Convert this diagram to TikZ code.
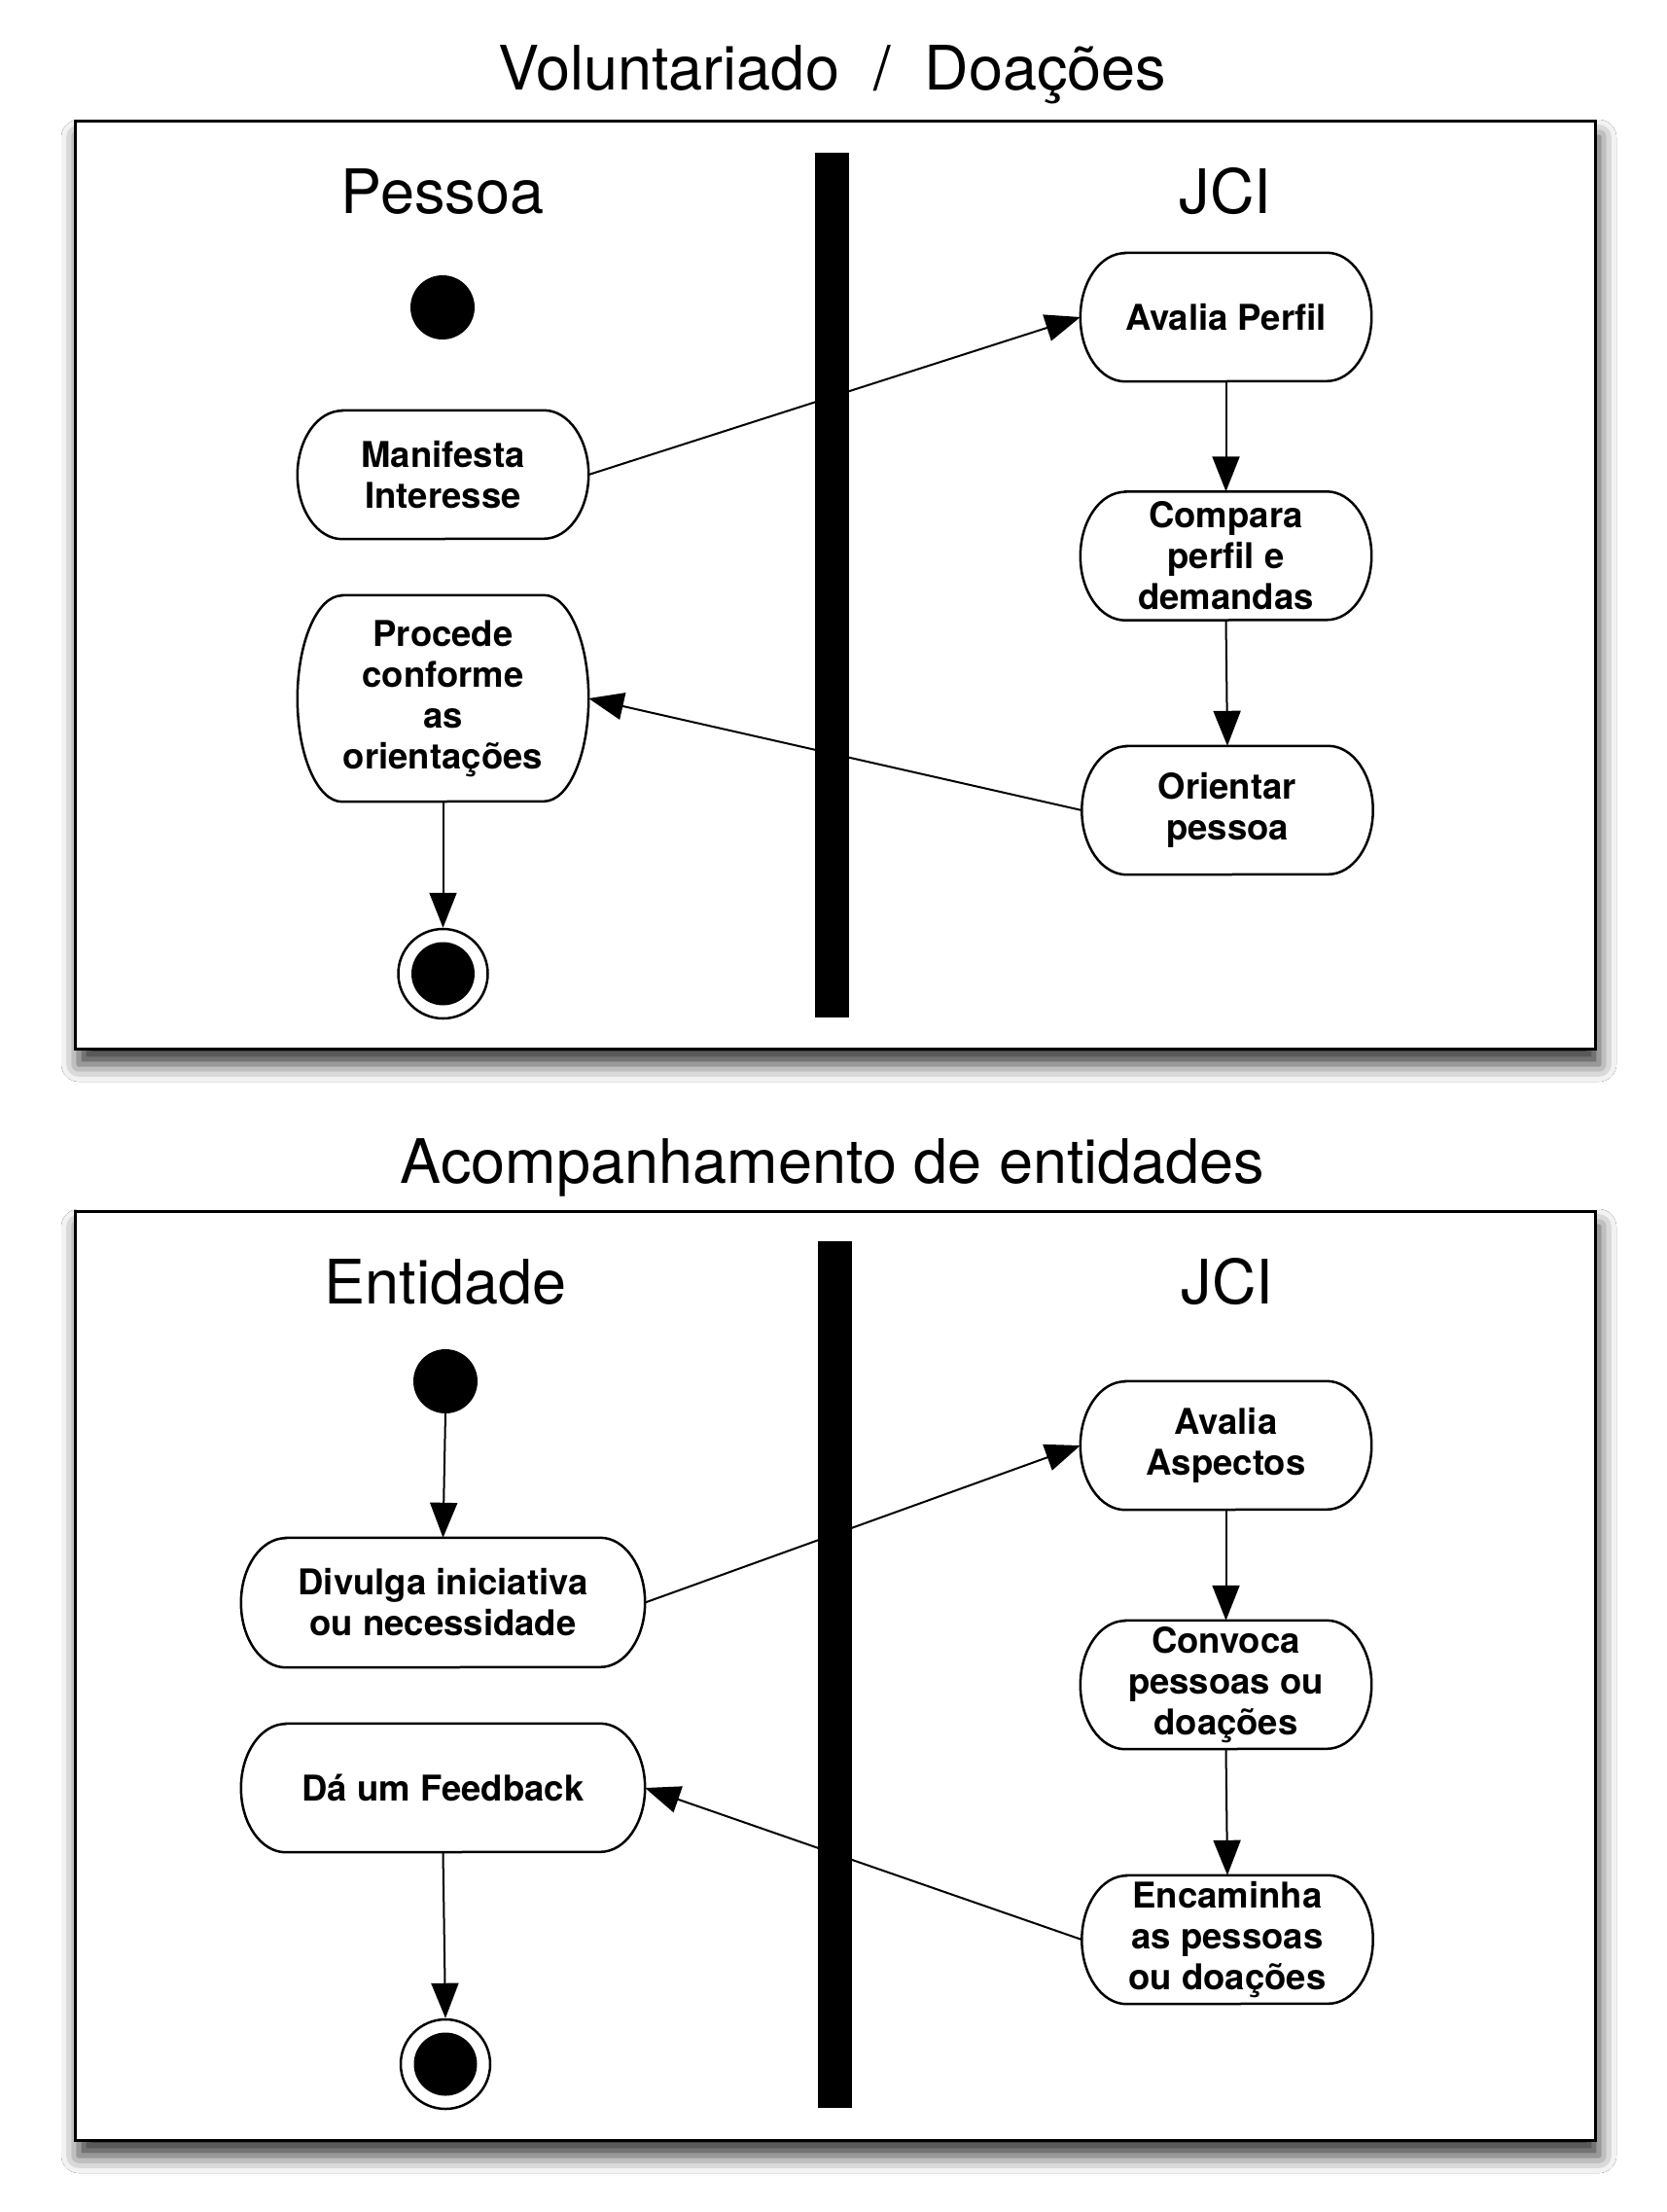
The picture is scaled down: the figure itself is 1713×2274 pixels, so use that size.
\documentclass[tikz,border=0pt]{standalone}
\usepackage{fontspec}
\setmainfont{TeX Gyre Heros}
\usetikzlibrary{arrows.meta,shadows.blur}
\newcommand{\actbox}[5]{%
  \node[acttext,minimum width=#3pt,minimum height=#4pt] (#1) at (#2) {#5};
  \draw[actline] ([xshift=46pt]#1.north west) -- ([xshift=-46pt]#1.north east)
    arc[start angle=90,end angle=-90,x radius=46pt,y radius=#4pt/2]
    -- ([xshift=46pt]#1.south west)
    arc[start angle=270,end angle=90,x radius=46pt,y radius=#4pt/2] -- cycle;
}
\begin{document}
\begin{tikzpicture}[x=1pt,y=-1pt,
  frame/.style={draw=black,line width=3pt,fill=white,rectangle,inner sep=0pt,
    blur shadow={shadow xshift=4pt,shadow yshift=-16pt,shadow blur radius=18pt,shadow opacity=80}},
  lanebar/.style={fill=black,draw=none,rectangle,inner sep=0pt,minimum width=35pt},
  titletext/.style={anchor=base,inner sep=0pt,font=\fontsize{63}{70}\selectfont},
  acttext/.style={draw=none,rectangle,inner sep=0pt,align=center,
    font=\bfseries\fontsize{36.5}{42}\selectfont},
  actline/.style={draw=black,line width=2.5pt},
  startdot/.style={circle,fill=black,draw=none,minimum size=66pt,inner sep=0pt},
  endring/.style={circle,draw=black,line width=2.5pt,fill=white,minimum size=92pt,inner sep=0pt},
  enddot/.style={circle,fill=black,draw=none,minimum size=65pt,inner sep=0pt},
  flow/.style={draw=black,line width=2pt,-{Triangle[length=36pt,width=28pt]}},
]
\useasboundingbox (0,0) rectangle (1713,2274);
\fill[white] (0,0) rectangle (1713,2274);

% ===== Top diagram =====
\node[titletext] (t1) at (856,93) {Voluntariado\ \ /\ \ Doações};
\node[frame,minimum width=1563pt,minimum height=953pt] (f1) at (858.5,601.5) {};
\node[titletext] (h1a) at (455,220) {Pessoa};
\node[titletext] (h1b) at (1260,220) {JCI};

\node[startdot] (s1) at (455,316) {};
\actbox{man}{455.5,488}{299}{132}{Manifesta\\Interesse}
\actbox{proc}{455.5,718}{299}{212}{Procede\\conforme\\as\\orientações}
\node[endring] (e1o) at (455.5,1001) {};
\node[enddot] (e1i) at (455.5,1001) {};

\actbox{avp}{1260.5,326}{299}{132}{Avalia Perfil}
\actbox{comp}{1260.5,571.5}{299}{132}{Compara\\perfil e\\demandas}
\actbox{ori}{1262,833}{299}{132}{Orientar\\pessoa}

\draw[flow] (man.east) -- (avp.west);
\draw[flow] (avp.south) -- (comp.north);
\draw[flow] (comp.south) -- (ori.north);
\draw[flow] (ori.west) -- (proc.east);
\draw[flow] (proc.south) -- (e1o.north);

\node[lanebar,minimum height=889pt] (b1) at (855.5,601.5) {};

% ===== Bottom diagram =====
\node[titletext] (t2) at (856,1216) {Acompanhamento de entidades};
\node[frame,minimum width=1563pt,minimum height=955pt] (f2) at (858.5,1722.5) {};
\node[titletext] (h2a) at (458,1340) {Entidade};
\node[titletext] (h2b) at (1262,1340) {JCI};

\node[startdot] (s2) at (458,1420) {};
\actbox{div}{455.5,1647.5}{415}{133}{Divulga iniciativa\\ou necessidade}
\actbox{feed}{455.5,1838}{415}{132}{Dá um Feedback}
\node[endring] (e2o) at (458,2122) {};
\node[enddot] (e2i) at (458,2122) {};

\actbox{ava}{1260.5,1486}{299}{132}{Avalia\\Aspectos}
\actbox{conv}{1260.5,1732}{299}{132}{Convoca\\pessoas ou\\doações}
\actbox{enc}{1262,1994}{299}{132}{Encaminha\\as pessoas\\ou doações}

\draw[flow] (s2.south) -- (div.north);
\draw[flow] (div.east) -- (ava.west);
\draw[flow] (ava.south) -- (conv.north);
\draw[flow] (conv.south) -- (enc.north);
\draw[flow] (enc.west) -- (feed.east);
\draw[flow] (feed.south) -- (e2o.north);

\node[lanebar,minimum height=891pt] (b2) at (858.5,1721.5) {};
\end{tikzpicture}
\end{document}
